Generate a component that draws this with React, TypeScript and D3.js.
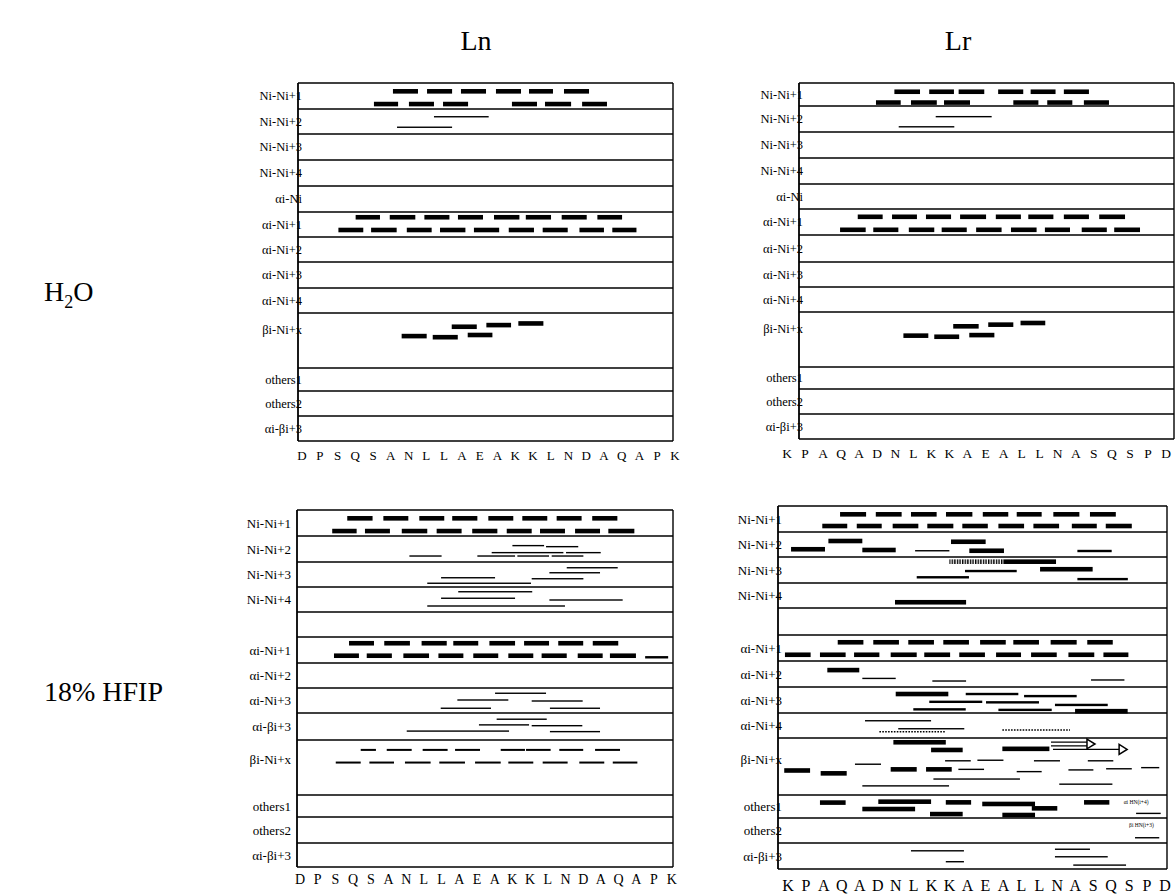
import React from 'react';
import * as d3 from 'd3';

type Mark = [number, number, number, number, string];
type Note = [number, number, number, string];

// ---------- sequences ----------
const LN_SEQ = ['D','P','S','Q','S','A','N','L','L','A','E','A','K','K','L','N','D','A','Q','A','P','K'];
const LR_SEQ = ['K','P','A','Q','A','D','N','L','K','K','A','E','A','L','L','N','A','S','Q','S','P','D'];

// ---------- row labels ----------
const H2O_ROWS = ['Ni-Ni+1','Ni-Ni+2','Ni-Ni+3','Ni-Ni+4','αi-Ni','αi-Ni+1','αi-Ni+2','αi-Ni+3','αi-Ni+4','βi-Ni+x','others1','others2','αi-βi+3'];
const LN_HFIP_ROWS = ['Ni-Ni+1','Ni-Ni+2','Ni-Ni+3','Ni-Ni+4','','αi-Ni+1','αi-Ni+2','αi-Ni+3','αi-βi+3','βi-Ni+x','others1','others2','αi-βi+3'];
const LR_HFIP_ROWS = ['Ni-Ni+1','Ni-Ni+2','Ni-Ni+3','Ni-Ni+4','','αi-Ni+1','αi-Ni+2','αi-Ni+3','αi-Ni+4','βi-Ni+x','others1','others2','αi-βi+3'];

const COLUMN_TITLES = ['Ln', 'Lr'];

// ---------- marks: [row, position inside row, from residue, to residue, kind] ----------
// kinds: B strong bar, M medium line, T weak line, D dashed segment, P dotted, H hatched, A1 arrow, A2 double arrow
const LN_H2O_MARKS: Mark[] = [
  [0,0.32,5.12,6.53,'B'],[0,0.32,7.04,8.45,'B'],[0,0.32,8.95,10.36,'B'],[0,0.32,10.92,12.33,'B'],[0,0.32,12.78,14.13,'B'],[0,0.32,14.75,16.16,'B'],
  [0,0.81,4.05,5.41,'B'],[0,0.81,6.02,7.43,'B'],[0,0.81,7.94,9.35,'B'],[0,0.81,11.82,13.23,'B'],[0,0.81,13.68,15.15,'B'],[0,0.81,15.77,17.17,'B'],
  [1,0.31,7.43,10.51,'T'],[1,0.73,5.35,8.45,'T'],
  [5,0.21,3.02,4.39,'B'],[5,0.21,4.94,6.38,'B'],[5,0.21,6.89,8.3,'B'],[5,0.21,8.78,10.19,'B'],[5,0.21,10.81,12.24,'B'],[5,0.21,12.6,14.02,'B'],[5,0.21,14.62,16.03,'B'],[5,0.21,16.63,18.02,'B'],
  [5,0.72,2.05,3.45,'B'],[5,0.72,3.89,5.33,'B'],[5,0.72,5.9,7.3,'B'],[5,0.72,7.77,9.2,'B'],[5,0.72,9.68,11.1,'B'],[5,0.72,11.64,13.06,'B'],[5,0.72,13.55,14.96,'B'],[5,0.72,15.62,17.0,'B'],[5,0.72,17.47,18.83,'B'],
  [9,0.42,5.61,7.02,'B'],[9,0.44,7.36,8.77,'B'],[9,0.25,8.43,9.84,'B'],[9,0.40,9.33,10.72,'B'],[9,0.22,10.38,11.77,'B'],[9,0.19,12.18,13.59,'B'],
];

const LR_H2O_MARKS: Mark[] = [
  [0,0.38,5.95,7.37,'B'],[0,0.38,7.88,9.25,'B'],[0,0.38,9.51,10.93,'B'],[0,0.38,11.7,13.09,'B'],[0,0.38,13.5,14.88,'B'],[0,0.38,15.34,16.73,'B'],
  [0,0.85,4.93,6.3,'B'],[0,0.85,6.87,8.3,'B'],[0,0.85,8.7,10.14,'B'],[0,0.85,12.54,13.93,'B'],[0,0.85,14.42,15.81,'B'],[0,0.85,16.45,17.84,'B'],
  [1,0.41,8.24,11.34,'T'],[1,0.8,6.19,9.27,'T'],
  [5,0.3,3.92,5.3,'B'],[5,0.3,5.82,7.2,'B'],[5,0.3,7.7,9.09,'B'],[5,0.3,9.59,11.03,'B'],[5,0.3,11.57,12.96,'B'],[5,0.3,13.37,14.76,'B'],[5,0.3,15.34,16.73,'B'],[5,0.3,17.3,18.73,'B'],
  [5,0.8,2.94,4.36,'B'],[5,0.8,4.78,6.17,'B'],[5,0.8,6.75,8.16,'B'],[5,0.8,8.57,9.96,'B'],[5,0.8,10.48,11.89,'B'],[5,0.8,12.41,13.83,'B'],[5,0.8,14.29,15.68,'B'],[5,0.8,16.33,17.72,'B'],[5,0.8,18.13,19.56,'B'],
  [9,0.43,6.45,7.83,'B'],[9,0.45,8.16,9.54,'B'],[9,0.26,9.21,10.62,'B'],[9,0.42,10.1,11.49,'B'],[9,0.23,11.15,12.54,'B'],[9,0.2,12.94,14.31,'B'],
];

const LN_HFIP_MARKS: Mark[] = [
  [0,0.32,2.67,4.1,'B'],[0,0.32,4.71,6.12,'B'],[0,0.32,6.74,8.15,'B'],[0,0.32,8.6,10.02,'B'],[0,0.32,10.64,12.05,'B'],[0,0.32,12.56,13.97,'B'],[0,0.32,14.5,15.91,'B'],[0,0.32,16.51,17.93,'B'],
  [0,0.81,1.82,3.2,'B'],[0,0.81,3.67,5.08,'B'],[0,0.81,5.75,7.19,'B'],[0,0.81,7.72,9.13,'B'],[0,0.81,9.73,11.15,'B'],[0,0.81,11.68,13.09,'B'],[0,0.81,13.56,14.97,'B'],[0,0.81,15.54,16.95,'B'],[0,0.81,17.42,18.89,'B'],
  [1,0.37,12.0,13.79,'T'],[1,0.41,13.9,15.72,'T'],[1,0.64,10.83,14.88,'T'],[1,0.64,15.03,16.99,'T'],[1,0.77,6.18,8.0,'T'],[1,0.77,10.02,12.15,'T'],[1,0.77,12.28,14.07,'T'],[1,0.77,14.22,16.01,'T'],
  [2,0.23,15.07,17.95,'T'],[2,0.43,14.09,16.95,'T'],[2,0.63,7.97,11.02,'T'],[2,0.67,13.09,16.01,'T'],[2,0.85,7.19,13.05,'T'],
  [3,0.19,8.94,13.12,'T'],[3,0.45,7.97,12.15,'T'],[3,0.52,14.09,18.23,'T'],[3,0.76,7.19,14.97,'T'],
  [5,0.24,2.77,4.18,'B'],[5,0.24,4.76,6.21,'B'],[5,0.24,6.87,8.29,'B'],[5,0.24,8.66,10.07,'B'],[5,0.24,10.7,12.15,'B'],[5,0.24,12.66,14.07,'B'],[5,0.24,14.59,16.0,'B'],[5,0.24,16.54,17.98,'B'],
  [5,0.72,1.92,3.33,'B'],[5,0.72,3.77,5.19,'B'],[5,0.72,5.84,7.29,'B'],[5,0.72,7.82,9.23,'B'],[5,0.72,9.79,11.2,'B'],[5,0.72,11.77,13.18,'B'],[5,0.72,13.65,15.07,'B'],[5,0.72,15.69,17.1,'B'],[5,0.72,17.51,18.98,'B'],[5,0.78,19.5,20.8,'M'],
  [7,0.21,11.02,13.9,'T'],[7,0.48,8.89,11.77,'T'],[7,0.52,13.09,15.97,'T'],[7,0.81,7.95,10.79,'T'],[7,0.81,14.12,16.95,'T'],
  [8,0.23,11.11,13.94,'T'],[8,0.44,10.11,12.94,'T'],[8,0.47,13.09,15.95,'T'],[8,0.67,6.03,11.81,'T'],[8,0.69,14.12,16.95,'T'],
  [9,0.18,3.43,4.29,'D'],[9,0.18,4.9,6.31,'D'],[9,0.18,6.93,8.34,'D'],[9,0.18,8.76,10.17,'D'],[9,0.18,11.34,12.71,'D'],[9,0.18,12.77,14.16,'D'],[9,0.18,14.65,16.0,'D'],[9,0.18,16.67,18.08,'D'],
  [9,0.41,2.02,3.43,'D'],[9,0.41,3.92,5.31,'D'],[9,0.41,5.93,7.38,'D'],[9,0.41,7.87,9.32,'D'],[9,0.41,9.89,11.34,'D'],[9,0.41,11.77,13.18,'D'],[9,0.41,13.71,15.12,'D'],[9,0.41,15.78,17.19,'D'],[9,0.41,17.67,19.06,'D'],
];

const LR_HFIP_MARKS: Mark[] = [
  [0,0.32,2.9,4.35,'B'],[0,0.32,4.89,6.33,'B'],[0,0.32,6.85,8.28,'B'],[0,0.32,8.8,10.27,'B'],[0,0.32,10.85,12.27,'B'],[0,0.32,12.74,14.13,'B'],[0,0.32,14.78,16.23,'B'],[0,0.32,16.82,18.26,'B'],
  [0,0.77,1.91,3.3,'B'],[0,0.77,3.83,5.22,'B'],[0,0.77,5.83,7.26,'B'],[0,0.77,7.76,9.21,'B'],[0,0.77,9.71,11.13,'B'],[0,0.77,11.72,13.15,'B'],[0,0.77,13.67,15.1,'B'],[0,0.77,15.81,17.2,'B'],[0,0.77,17.7,19.15,'B'],
  [1,0.36,2.25,4.14,'B'],[1,0.39,9.08,11.01,'B'],[1,0.69,0.17,2.06,'B'],[1,0.72,4.14,6.0,'B'],[1,0.75,7.08,8.99,'T'],[1,0.75,10.1,12.03,'B'],[1,0.76,16.12,18.03,'M'],
  [2,0.18,8.99,12.0,'H'],[2,0.18,12.0,14.93,'B'],[2,0.54,9.86,12.74,'M'],[2,0.47,14.04,16.97,'B'],[2,0.78,7.17,10.08,'M'],[2,0.85,16.12,18.93,'M'],
  [3,0.77,5.96,9.92,'B'],
  [5,0.28,2.77,4.2,'B'],[5,0.28,4.75,6.18,'B'],[5,0.28,6.7,8.13,'B'],[5,0.28,8.65,10.08,'B'],[5,0.28,10.7,12.13,'B'],[5,0.28,12.55,13.98,'B'],[5,0.28,14.63,16.08,'B'],[5,0.28,16.67,18.09,'B'],
  [5,0.76,-0.17,1.26,'B'],[5,0.76,1.78,3.21,'B'],[5,0.76,3.68,5.09,'B'],[5,0.76,5.72,7.17,'B'],[5,0.76,7.59,9.03,'B'],[5,0.76,9.54,10.97,'B'],[5,0.76,11.59,12.98,'B'],[5,0.76,13.54,14.97,'B'],[5,0.76,15.62,17.06,'B'],[5,0.76,17.57,18.96,'B'],
  [6,0.35,2.19,3.97,'B'],[6,0.67,4.14,6.0,'T'],[6,0.77,8.04,9.92,'T'],[6,0.73,16.88,18.74,'T'],
  [7,0.27,6.0,8.93,'B'],[7,0.27,9.9,12.83,'M'],[7,0.35,13.15,16.08,'M'],[7,0.57,7.87,10.82,'M'],[7,0.59,11.03,13.98,'M'],[7,0.69,14.87,17.81,'M'],[7,0.86,6.98,9.9,'M'],[7,0.88,11.72,14.69,'M'],[7,0.93,15.99,18.92,'B'],
  [8,0.31,4.29,7.97,'T'],[8,0.63,6.14,9.82,'T'],[8,0.75,5.09,8.79,'P'],[8,0.68,11.94,15.71,'P'],
  [9,0.075,5.87,8.79,'B'],[9,0.21,7.97,9.73,'B'],[9,0.19,11.94,14.56,'B'],[9,0.105,14.65,17.1,'A2'],[9,0.2,14.76,18.89,'A1'],
  [9,0.4,8.75,10.18,'T'],[9,0.39,10.55,12.0,'T'],[9,0.4,13.7,15.15,'T'],[9,0.4,16.7,18.12,'T'],[9,0.46,3.73,5.18,'T'],
  [9,0.57,-0.21,1.23,'B'],[9,0.62,1.82,3.27,'B'],[9,0.55,5.72,7.17,'B'],[9,0.55,7.69,9.12,'B'],[9,0.55,9.49,10.92,'T'],[9,0.59,12.74,14.13,'T'],[9,0.56,15.62,17.01,'T'],[9,0.54,17.72,19.15,'T'],[9,0.52,19.67,20.68,'T'],
  [9,0.72,8.1,12.92,'T'],[9,0.81,15.11,18.07,'T'],[9,0.84,4.14,8.97,'T'],
  [10,0.33,1.78,3.21,'B'],[10,0.29,5.03,7.97,'B'],[10,0.32,8.79,10.2,'B'],[10,0.39,10.82,13.76,'B'],[10,0.61,4.14,7.08,'B'],[10,0.58,13.58,15.0,'B'],[10,0.83,7.91,9.73,'B'],[10,0.87,11.94,13.76,'B'],[10,0.32,16.49,17.9,'B'],[10,0.8,19.39,20.76,'T'],
  [11,0.79,19.33,20.68,'T'],
  [12,0.3,6.85,9.8,'T'],[12,0.72,8.79,9.8,'T'],[12,0.24,14.87,16.82,'T'],[12,0.53,14.87,17.81,'T'],[12,0.85,15.89,18.83,'T'],
];

const LR_HFIP_NOTES: Note[] = [
  [10, 0.32, 18.7, 'αi HN(i+4)'],
  [11, 0.3, 19.0, 'βi HN(i+3)'],
];

// ---------- layout ----------
interface Spec {
  x0: number; x1: number;
  r0: number; r1: number;
  bounds: number[];
  seq: string[]; rows: string[]; marks: Mark[]; notes?: Note[];
  labelEnd: number; labelSize: number; labelMax: number;
  seqY: number; seqSize: number;
}

const PANELS: Spec[] = [
  { x0: 298, x1: 673, r0: 302, r1: 675, bounds: [83,109,134,160,186,212,237,262,288,313,368,391,416,441],
    seq: LN_SEQ, rows: H2O_ROWS, marks: LN_H2O_MARKS, labelEnd: 302, labelSize: 12.5, labelMax: 17, seqY: 460, seqSize: 13 },
  { x0: 799, x1: 1174, r0: 787, r1: 1166, bounds: [83,106,132,158,184,209,235,262,287,312,367,389,414,439],
    seq: LR_SEQ, rows: H2O_ROWS, marks: LR_H2O_MARKS, labelEnd: 803, labelSize: 12.5, labelMax: 17, seqY: 458, seqSize: 13.5 },
  { x0: 297, x1: 673, r0: 300, r1: 671.7, bounds: [510,536,562,587,612,637,663,688,713,740,795,817,843,867],
    seq: LN_SEQ, rows: LN_HFIP_ROWS, marks: LN_HFIP_MARKS, labelEnd: 291, labelSize: 13, labelMax: 19, seqY: 884, seqSize: 14 },
  { x0: 778, x1: 1167, r0: 788, r1: 1165, bounds: [506,532,557,583,608,635,661,687,713,738,795,818,843,869],
    seq: LR_SEQ, rows: LR_HFIP_ROWS, marks: LR_HFIP_MARKS, notes: LR_HFIP_NOTES, labelEnd: 782, labelSize: 13, labelMax: 21, seqY: 891, seqSize: 16 },
];

const THICK: Record<string, number> = { B: 4.6, M: 2.4, T: 1.4, D: 2.0, H: 4.6 };
const SERIF = '"Liberation Serif", "Times New Roman", serif';

function Panel({ s, idx }: { s: Spec; idx: number }) {
  const xs = d3.scaleLinear().domain([0, s.seq.length - 1]).range([s.r0, s.r1]);
  const b = s.bounds;
  const yAt = (r: number, f: number) => b[r] + (b[r + 1] - b[r]) * f;
  const els: React.ReactNode[] = [];
  s.marks.forEach((m, i) => {
    const [r, f, a, z, k] = m;
    const y = yAt(r, f);
    const xa = xs(a), xz = xs(z);
    if (k === 'P') {
      els.push(<line key={i} x1={xa} x2={xz} y1={y} y2={y} stroke="#000" strokeWidth={1.6} strokeDasharray="1.6,1.3" />);
    } else if (k === 'A1' || k === 'A2') {
      const head = 8;
      const tip = xz;
      const base = tip - head;
      if (k === 'A2') {
        els.push(<g key={i}>
          <line x1={xa} x2={base + 2} y1={y - 1.8} y2={y - 1.8} stroke="#000" strokeWidth={1.3} />
          <line x1={xa} x2={base + 2} y1={y + 1.8} y2={y + 1.8} stroke="#000" strokeWidth={1.3} />
          <path d={`M${base},${y - 4.8}L${tip},${y}L${base},${y + 4.8}Z`} fill="#fff" stroke="#000" strokeWidth={1.5} />
        </g>);
      } else {
        els.push(<g key={i}>
          <line x1={xa} x2={base} y1={y} y2={y} stroke="#000" strokeWidth={1.3} />
          <path d={`M${base},${y - 5}L${tip},${y}L${base},${y + 5}Z`} fill="#fff" stroke="#000" strokeWidth={1.5} />
        </g>);
      }
    } else {
      const t = THICK[k] ?? 1.4;
      els.push(<rect key={i} x={xa} y={y - t / 2} width={xz - xa} height={t} fill={k === 'H' ? `url(#hatch${idx})` : '#000'} />);
    }
  });
  return (
    <g>
      <defs>
        <pattern id={`hatch${idx}`} width={2.6} height={10} patternUnits="userSpaceOnUse">
          <rect width={2.6} height={10} fill="#fff" />
          <rect x={0} width={1.4} height={10} fill="#000" />
        </pattern>
      </defs>
      {b.map((y, i) => (
        <line key={'h' + i} x1={s.x0} x2={s.x1} y1={y} y2={y} stroke="#000" strokeWidth={1.5} />
      ))}
      <line x1={s.x0} x2={s.x0} y1={b[0]} y2={b[b.length - 1]} stroke="#000" strokeWidth={1.8} />
      <line x1={s.x1} x2={s.x1} y1={b[0]} y2={b[b.length - 1]} stroke="#000" strokeWidth={1.4} />
      {s.rows.map((lab, i) => {
        const h = b[i + 1] - b[i];
        const cy = b[i] + Math.min(h / 2, s.labelMax);
        return lab ? (
          <text key={'l' + i} x={s.labelEnd} y={cy} dy="0.35em" textAnchor="end" fontFamily={SERIF} fontSize={s.labelSize} fill="#000">{lab}</text>
        ) : null;
      })}
      {els}
      {(s.notes || []).map((n, i) => (
        <text key={'n' + i} x={xs(n[2])} y={yAt(n[0], n[1])} dy="0.35em" fontFamily={SERIF} fontSize={5.5} fill="#000">{n[3]}</text>
      ))}
      {s.seq.map((c, i) => (
        <text key={'s' + i} x={xs(i)} y={s.seqY} textAnchor="middle" fontFamily={SERIF} fontSize={s.seqSize} fill="#000">{c}</text>
      ))}
    </g>
  );
}

export default function App() {
  return (
    <svg width={1175} height={895} style={{ position: 'absolute', left: 0, top: 0, background: '#fff' }}>
      <rect width={1175} height={895} fill="#fff" />
      <text x={476} y={50} textAnchor="middle" fontFamily={SERIF} fontSize={28}>{COLUMN_TITLES[0]}</text>
      <text x={958} y={50} textAnchor="middle" fontFamily={SERIF} fontSize={28}>{COLUMN_TITLES[1]}</text>
      <text x={44} y={301} fontFamily={SERIF} fontSize={28}>H<tspan fontSize={18} dy={7}>2</tspan><tspan dy={-7}>O</tspan></text>
      <text x={44} y={701} fontFamily={SERIF} fontSize={28}>18% HFIP</text>
      {PANELS.map((p, i) => <Panel key={i} s={p} idx={i} />)}
    </svg>
  );
}
